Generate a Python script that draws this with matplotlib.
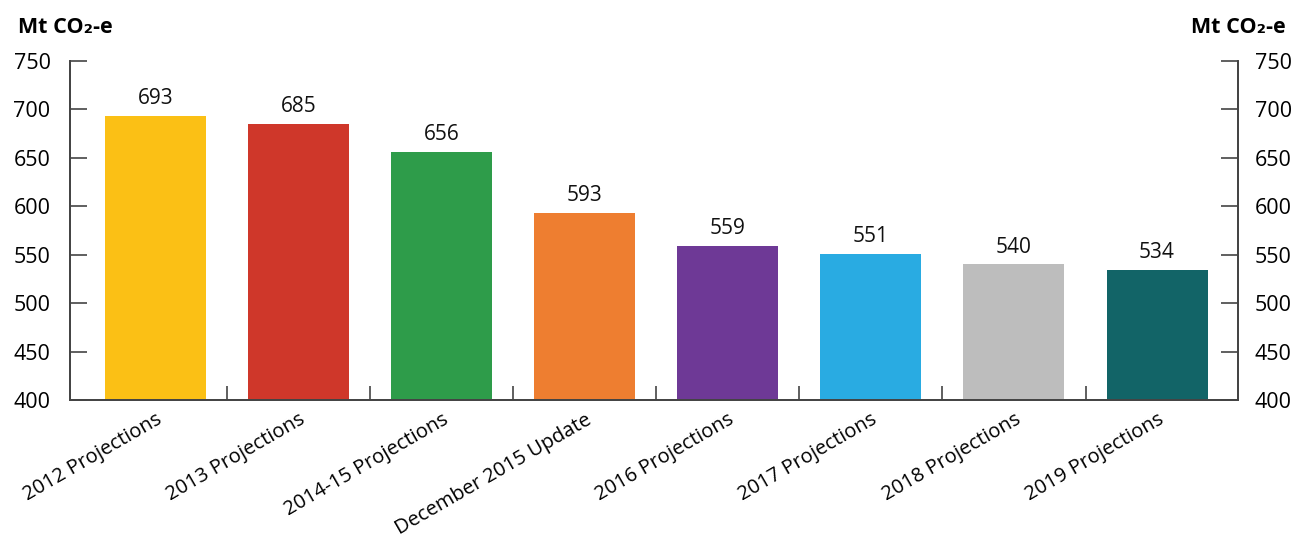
import matplotlib
matplotlib.use("Agg")
import matplotlib.pyplot as plt

categories = ["2012 Projections", "2013 Projections", "2014-15 Projections",
              "December 2015 Update", "2016 Projections", "2017 Projections",
              "2018 Projections", "2019 Projections"]
values = [693, 685, 656, 593, 559, 551, 540, 534]
colors = ["#FBC015", "#CF372A", "#2E9C4A", "#EE7E30", "#6E3996", "#29ABE2", "#BDBDBD", "#126467"]
yticks = [400, 450, 500, 550, 600, 650, 700, 750]

plt.rcParams['font.family'] = ['Open Sans', 'DejaVu Sans']

fig = plt.figure(figsize=(12.93, 5.41), dpi=100)
ax = fig.add_axes([0.0541, 0.2606, 0.9034, 0.6266])
x = list(range(len(categories)))
ax.bar(x, values, width=0.706, color=colors, zorder=2)
for xi, v in zip(x, values):
    ax.text(xi, v + 7, f"{v}", ha="center", va="bottom", fontsize=15, color="#111111")

ax.set_ylim(400, 750)
ax.set_xlim(-0.597, 7.566)
ax.set_yticks(yticks)
ax.set_yticklabels([str(t) for t in yticks], fontsize=15.5)
ax.tick_params(axis='y', direction='in', length=12, width=1.2, color="#444444", pad=14)

ax2 = ax.twinx()
ax2.set_ylim(400, 750)
ax2.set_yticks(yticks)
ax2.set_yticklabels([str(t) for t in yticks], fontsize=15.5)
ax2.tick_params(axis='y', direction='in', length=12, width=1.2, color="#444444", pad=12)

ax.set_xticks([k + 0.5 for k in range(7)])
ax.set_xticklabels([])
ax.tick_params(axis='x', direction='in', length=10, width=1.2, color="#444444")
ax.set_xticks(x, minor=True)
ax.set_xticklabels(categories, minor=True, rotation=30, ha='right', rotation_mode='anchor', fontsize=14.5)
ax.tick_params(axis='x', which='minor', length=0, pad=7)

for a in (ax, ax2):
    a.spines['top'].set_visible(False)
    for s in ('left', 'right', 'bottom'):
        a.spines[s].set_color("#444444")
        a.spines[s].set_linewidth(1.3)

fig.text(0.014, 0.95, "Mt CO₂-e", fontsize=15.5, fontweight='bold', ha='left', va='center')
fig.text(0.994, 0.95, "Mt CO₂-e", fontsize=15.5, fontweight='bold', ha='right', va='center')

fig.savefig("out.png", dpi=100)
